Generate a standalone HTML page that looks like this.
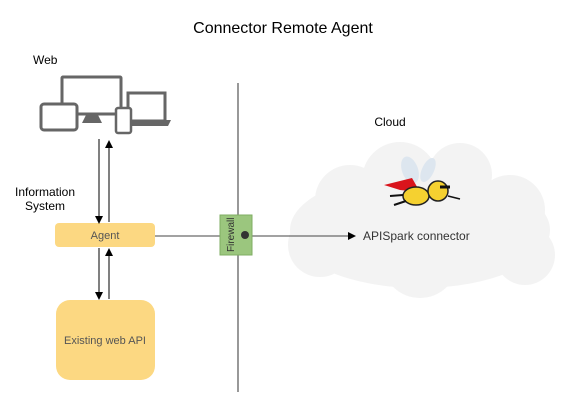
<!DOCTYPE html>
<html><head><style>body{margin:0;background:#fff}svg{display:block}text{font-family:"Liberation Sans",sans-serif}</style></head>
<body>
<svg width="567" height="402" viewBox="0 0 567 402">
<defs><marker id="a" markerWidth="8" markerHeight="8" refX="7" refY="4" orient="auto" markerUnits="userSpaceOnUse"><path d="M0,0 L8,4 L0,8 z" fill="#000"/></marker></defs>
<text x="283" y="33" font-size="16" text-anchor="middle" fill="#000">Connector Remote Agent</text>
<text x="33" y="64" font-size="12">Web</text>
<text x="45" y="196" font-size="12" text-anchor="middle">Information</text>
<text x="45" y="210" font-size="12" text-anchor="middle">System</text>
<text x="390" y="126" font-size="12" text-anchor="middle">Cloud</text>
<!-- cloud -->
<g fill="#f3f3f3">
<ellipse cx="420" cy="230" rx="130" ry="58"/>
<circle cx="350" cy="200" r="35"/><circle cx="400" cy="180" r="38"/><circle cx="460" cy="175" r="32"/><circle cx="510" cy="210" r="35"/><circle cx="320" cy="245" r="32"/><circle cx="525" cy="255" r="30"/><circle cx="420" cy="260" r="38"/>
</g>
<!-- bee -->
<ellipse cx="410" cy="170" rx="8" ry="14" fill="#dde6ef" transform="rotate(-20 410 170)"/>
<ellipse cx="428" cy="170" rx="6" ry="13" fill="#dde6ef" transform="rotate(25 428 170)"/>
<path d="M384,185 L412,178 L420,192 L400,190 z" fill="#d9141c"/>
<ellipse cx="416" cy="196" rx="13" ry="9" fill="#f5d130" stroke="#222" stroke-width="1.5"/>
<circle cx="438" cy="191" r="10" fill="#f5d130" stroke="#222" stroke-width="1.5"/>
<path d="M440,187 h10" stroke="#111" stroke-width="3"/>
<path d="M448,196 L460,199" stroke="#111" stroke-width="1.5"/>
<path d="M403,195 L390,196 M406,201 L394,205" stroke="#111" stroke-width="2"/>
<text x="363" y="240" font-size="12" fill="#333">APISpark connector</text>
<!-- firewall line -->
<line x1="238" y1="83" x2="238" y2="392" stroke="#555" stroke-width="1.2"/>
<line x1="155" y1="236" x2="222" y2="236" stroke="#444"/>
<line x1="252" y1="236" x2="355" y2="236" stroke="#444" marker-end="url(#a)"/>
<rect x="220" y="215" width="32" height="40" fill="#9bc67e" stroke="#7fae63"/>
<circle cx="245" cy="235" r="4" fill="#333"/>
<text x="0" y="0" font-size="10" fill="#333" transform="translate(234 252) rotate(-90)">Firewall</text>
<!-- boxes -->
<rect x="55" y="223" width="100" height="24" rx="4" fill="#fcd882"/>
<text x="105" y="239" font-size="11" text-anchor="middle" fill="#555">Agent</text>
<rect x="56" y="300" width="99" height="80" rx="14" fill="#fcd882"/>
<text x="105" y="344" font-size="11" text-anchor="middle" fill="#555">Existing web API</text>
<!-- arrows -->
<line x1="99" y1="139" x2="99" y2="223" stroke="#000" marker-end="url(#a)"/>
<line x1="109" y1="222" x2="109" y2="141" stroke="#000" marker-end="url(#a)"/>
<line x1="99" y1="248" x2="99" y2="299" stroke="#000" marker-end="url(#a)"/>
<line x1="109" y1="299" x2="109" y2="249" stroke="#000" marker-end="url(#a)"/>
<!-- devices -->
<rect x="62" y="77" width="59" height="37" rx="1" fill="#fff" stroke="#666" stroke-width="3"/>
<path d="M86,115 h12 l4,8 h-20 z" fill="#666"/>
<rect x="41" y="104" width="36" height="26" rx="3" fill="#fff" stroke="#666" stroke-width="3"/>
<rect x="128" y="93" width="37" height="28" fill="#fff" stroke="#666" stroke-width="3"/>
<path d="M126,120 h45 l-3,6 h-39 z" fill="#666"/>
<rect x="116" y="108" width="15" height="25" rx="2" fill="#fff" stroke="#666" stroke-width="2.5"/>
</svg>
</body></html>
